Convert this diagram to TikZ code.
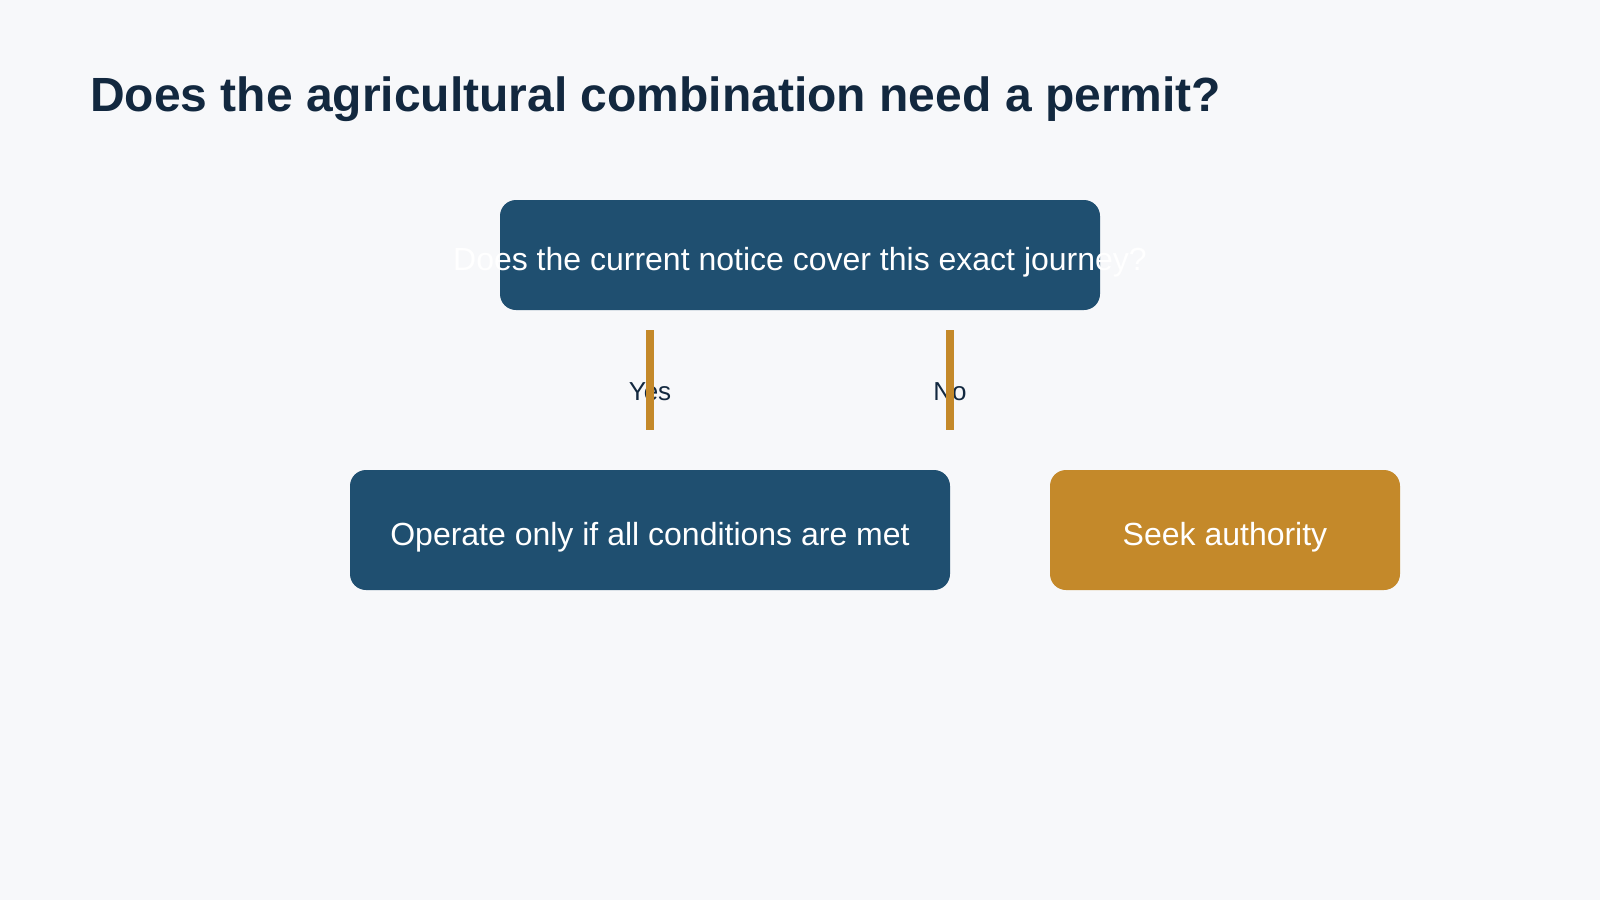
\documentclass[tikz,border=0pt]{standalone}
\usepackage{fontspec}
\setmainfont{Liberation Sans}
\definecolor{bgc}{HTML}{F7F8FA}
\definecolor{navy}{HTML}{1F4F70}
\definecolor{goldc}{HTML}{C4892A}
\definecolor{ink}{HTML}{12283F}
\begin{document}
\begin{tikzpicture}[x=1pt,y=-1pt,
  box/.style={rounded corners=16pt, inner sep=0pt, text=white,
    font=\fontsize{32}{38}\selectfont, text height=30pt, text depth=0pt},
  titletext/.style={inner sep=0pt, text=ink, font=\fontsize{48}{56}\selectfont\bfseries},
  lbl/.style={inner sep=0pt, text=ink, font=\fontsize{26}{31}\selectfont},
  conn/.style={draw=goldc, line width=8pt}]
\fill[bgc] (0,0) rectangle (1600,900);
\useasboundingbox (0,0) rectangle (1600,900);
\node[titletext, anchor=base west] (title) at (90,111) {Does the agricultural combination need a permit?};
\node[box, fill=navy, minimum width=600pt, minimum height=110pt] (q) at (800,255)
  {\makebox[0pt][c]{Does the current notice cover this exact journey?}};
\node[box, fill=navy, minimum width=600pt, minimum height=120pt] (yes) at (650,530)
  {Operate only if all conditions are met};
\node[box, fill=goldc, minimum width=350pt, minimum height=120pt] (no) at (1225,530)
  {Seek authority};
\node[lbl, anchor=base] (ylab) at (650,400) {Yes};
\node[lbl, anchor=base] (nlab) at (950,400) {No};
\draw[conn] ([yshift=-20pt]q.south -| yes.north) -- ([yshift=40pt]yes.north);
\draw[conn] ([yshift=-20pt]q.south -| yes.east) -- ([yshift=40pt]yes.north east);
\end{tikzpicture}
\end{document}
